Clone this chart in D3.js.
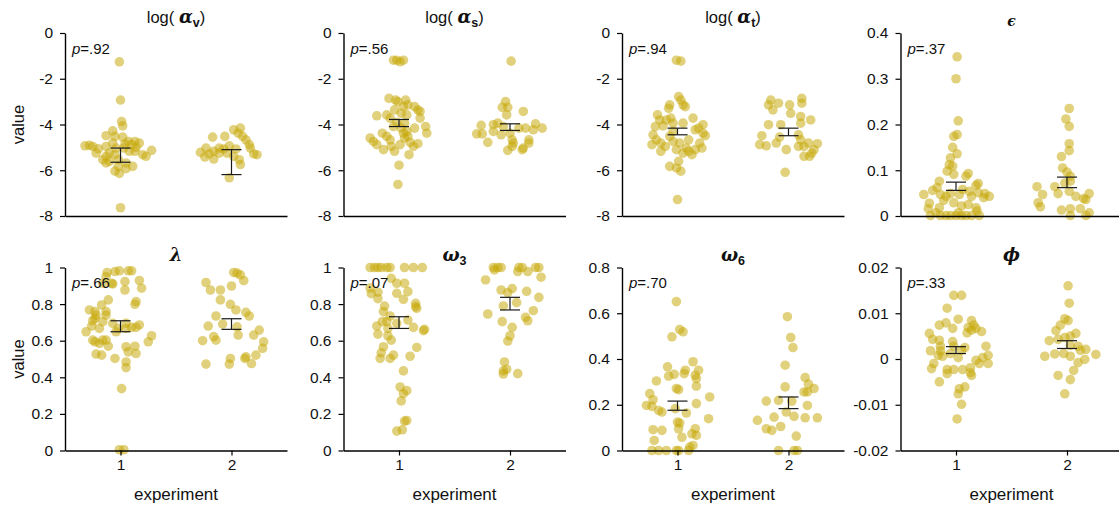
<!DOCTYPE html>
<html><head><meta charset="utf-8">
<script src="https://cdn.jsdelivr.net/npm/d3@7"></script>
<style>body{margin:0;background:#fff}svg{display:block}</style>
</head><body><svg id="c" width="1119" height="507"></svg>
<script>
// ---------------- DATA ----------------
const experiments = [1, 2];
const pLabels = [".92", ".56", ".94", ".37", ".66", ".07", ".70", ".33"];

const titleParts = [
  [["log( ", "n"], ["α", "g"], ["v", "s"], [")", "n"]],
  [["log( ", "n"], ["α", "g"], ["s", "s"], [")", "n"]],
  [["log( ", "n"], ["α", "g"], ["t", "s"], [")", "n"]],
  [["ϵ", "g"]],
  [["λ", "g"]],
  [["ω", "g"], ["3", "s"]],
  [["ω", "g"], ["6", "s"]],
  [["ϕ", "g"]]
];

const domains = [[-8, 0], [-8, 0], [-8, 0], [0, 0.4], [0, 1], [0, 1], [0, 0.8], [-0.02, 0.02]];
const tickSets = [
  [-8, -6, -4, -2, 0], [-8, -6, -4, -2, 0], [-8, -6, -4, -2, 0],
  [0, 0.1, 0.2, 0.3, 0.4],
  [0, 0.2, 0.4, 0.6, 0.8, 1], [0, 0.2, 0.4, 0.6, 0.8, 1],
  [0, 0.2, 0.4, 0.6, 0.8],
  [-0.02, -0.01, 0, 0.01, 0.02]
];

// error bars [low, high] per experiment
const errBars = [
  [[-5.65, -5.03], [-6.19, -5.10]],
  [[-4.09, -3.78], [-4.26, -3.97]],
  [[-4.45, -4.16], [-4.49, -4.16]],
  [[0.056, 0.074], [0.062, 0.085]],
  [[0.649, 0.709], [0.662, 0.720]],
  [[0.667, 0.731], [0.768, 0.837]],
  [[0.176, 0.216], [0.183, 0.234]],
  [[0.0012, 0.0027], [0.0023, 0.0040]]
];

// points: [value, jitter (in category steps)]
const alphaV1 = [[-1.26,-0.01],[-2.93,0],[-3.87,0.01],[-4.06,0.02],[-4.28,-0.07],[-4.49,-0.13],[-4.52,-0.05],[-4.55,0.02],[-4.91,-0.28],[-4.96,-0.25],[-5.06,-0.2],[-5.25,-0.22],[-4.81,-0.07],[-4.96,-0.13],[-5.25,-0.1],[-5.03,-0.04],[-4.74,0.07],[-4.88,0.1],[-4.74,0.13],[-4.81,0.17],[-5.17,0.08],[-5.17,0.13],[-5.32,0.2],[-5.39,0.23],[-5.13,0.28],[-5.32,-0.05],[-5.54,-0.02],[-5.61,-0.1],[-5.68,-0.13],[-5.68,0.05],[-5.83,0.11],[-5.83,-0.02],[-6.04,-0.05],[-6.14,-0.01],[-5.93,0.05],[-5.54,-0.16],[-5.39,-0.13],[-7.64,0],[-5.03,0.03],[-4.93,-0.32],[-5.0,0.14],[-4.85,0.04]];
const alphaV2 = [[-4.55,-0.17],[-4.52,-0.06],[-4.23,0.02],[-4.38,0.06],[-4.16,0.08],[-4.52,0.1],[-4.67,0.13],[-4.88,0.16],[-5.03,0.17],[-5.22,-0.28],[-5.03,-0.23],[-5.17,-0.16],[-5.03,-0.11],[-5.42,-0.24],[-5.51,-0.16],[-5.25,-0.11],[-5.07,-0.07],[-5.25,-0.04],[-5.39,0.02],[-5.54,0.07],[-5.75,0.08],[-5.28,0.2],[-5.32,0.23],[-6.33,-0.02],[-4.93,-0.02],[-5.07,0.04],[-5.28,-0.2]];

const alphaS1 = [[-1.19,-0.05],[-1.19,-0.02],[-1.26,0.01],[-1.19,0.04],[-2.86,-0.09],[-2.93,-0.03],[-3.0,-0.01],[-2.93,0.06],[-3.22,0.04],[-3.14,0.08],[-3.22,0.14],[-3.36,0.17],[-3.43,0.19],[-3.62,-0.2],[-3.58,-0.11],[-3.36,-0.04],[-3.51,0.02],[-3.58,0.07],[-3.72,0.19],[-3.72,-0.08],[-3.91,-0.02],[-4.09,-0.05],[-3.94,0.05],[-4.16,0.14],[-4.09,0.24],[-4.38,0.25],[-4.38,-0.15],[-4.59,-0.26],[-4.74,-0.23],[-4.88,-0.2],[-4.52,-0.11],[-4.67,-0.08],[-4.96,-0.07],[-5.10,-0.14],[-5.17,-0.04],[-4.88,0.01],[-4.59,0.05],[-4.52,0.08],[-4.78,0.1],[-4.96,0.13],[-4.84,0.17],[-4.38,0.04],[-4.16,0.02],[-5.32,0.09],[-5.78,0],[-6.62,-0.01],[-4.30,0.07]];
const alphaS2 = [[-1.23,0.01],[-3.0,-0.04],[-3.25,-0.07],[-3.25,-0.02],[-3.58,-0.03],[-3.43,0.12],[-3.94,-0.11],[-4.01,-0.15],[-4.09,-0.06],[-4.04,-0.26],[-4.30,-0.15],[-4.41,-0.3],[-4.41,-0.25],[-4.78,-0.2],[-4.45,-0.08],[-4.38,0],[-4.67,0.02],[-4.81,0.03],[-4.67,0.17],[-4.16,0.14],[-4.23,0.21],[-3.97,0.23],[-4.16,0.29],[-4.81,0.17],[-5.03,0.12],[-5.10,0.11],[-4.96,0.02],[-5.13,-0.02],[-4.16,0.08]];

const alphaT1 = [[-1.19,-0.01],[-1.23,0.03],[-2.78,0.01],[-2.93,0.03],[-3.14,0.05],[-3.22,0.07],[-3.14,-0.07],[-3.29,-0.08],[-3.58,-0.18],[-3.80,-0.16],[-3.80,-0.1],[-3.72,-0.06],[-3.94,-0.04],[-3.72,0.14],[-3.94,0.05],[-4.09,-0.2],[-4.06,-0.13],[-4.45,-0.22],[-4.67,-0.19],[-4.88,-0.23],[-4.81,-0.15],[-4.96,-0.11],[-5.17,-0.15],[-4.52,-0.07],[-4.74,-0.04],[-4.81,0.02],[-4.67,0.1],[-4.23,0.16],[-4.16,0.19],[-4.01,0.23],[-4.38,0.23],[-4.49,0.25],[-4.81,0.2],[-5.03,0.22],[-5.10,0.16],[-5.03,0.08],[-5.10,-0.01],[-5.25,0.05],[-5.17,0.1],[-5.32,0.13],[-5.83,-0.07],[-5.61,0.01],[-5.90,-0.01],[-6.04,0.03],[-7.28,0],[-4.30,-0.04]];
const alphaT2 = [[-2.93,-0.16],[-3.14,-0.18],[-3.07,-0.09],[-3.36,-0.14],[-3.14,0.01],[-3.51,0.02],[-2.86,0.12],[-3.07,0.12],[-3.65,0.11],[-3.80,0.2],[-3.94,0.11],[-4.01,-0.18],[-4.01,-0.07],[-4.49,-0.24],[-4.88,-0.26],[-4.93,-0.2],[-4.81,-0.11],[-4.55,-0.08],[-5.10,-0.02],[-6.09,-0.03],[-4.45,0.09],[-4.67,0.11],[-4.96,0.09],[-4.96,0.14],[-5.39,0.14],[-5.39,0.19],[-5.25,0.21],[-5.10,0.23],[-4.84,0.26],[-4.81,0.18]];

const epsilon1 = [[0.348,0.01],[0.300,0],[0.208,0.02],[0.174,-0.02],[0.178,0.01],[0.150,-0.03],[0.136,0.01],[0.127,-0.05],[0.112,-0.06],[0.109,-0.03],[0.091,-0.02],[0.098,-0.08],[0.076,-0.15],[0.093,0.11],[0.087,0.09],[0.071,0.2],[0.067,0.18],[0.047,-0.29],[0.056,-0.21],[0.062,-0.17],[0.047,-0.14],[0.043,-0.09],[0.049,-0.05],[0.047,0.03],[0.058,0.06],[0.054,0.12],[0.043,0.14],[0.051,0.2],[0.049,0.26],[0.043,0.3],[0.040,0.25],[0.028,-0.24],[0.016,-0.25],[0.018,-0.15],[0.034,-0.11],[0.029,-0.02],[0.022,0.05],[0.025,0.11],[0.018,0.18],[0.011,0.19],[0.001,-0.23],[0.001,-0.14],[0.001,-0.09],[0.001,-0.05],[0.001,0],[0.001,0.05],[0.001,0.09],[0.001,0.14],[0.001,0.21],[0.007,0.02],[0.007,-0.18]];
const epsilon2 = [[0.235,0.02],[0.212,-0.01],[0.196,0.02],[0.158,0.02],[0.143,0.02],[0.130,-0.05],[0.105,-0.04],[0.096,0],[0.087,0.03],[0.064,-0.27],[0.047,-0.22],[0.064,-0.11],[0.049,-0.08],[0.072,-0.02],[0.076,0.03],[0.054,0.02],[0.043,0.08],[0.038,0.15],[0.049,0.2],[0.029,-0.26],[0.020,-0.24],[0.013,-0.05],[0.016,0.03],[0.016,0.12],[0.036,0.17],[0.007,0.2],[0.001,0.03],[0.001,0.17]];

const lambda1 = [[0.978,-0.05],[0.982,-0.01],[0.982,0.07],[0.982,0.1],[0.973,-0.12],[0.951,-0.13],[0.914,-0.16],[0.914,-0.08],[0.910,-0.07],[0.923,0.04],[0.929,0.17],[0.887,0.19],[0.877,0.04],[0.814,0.14],[0.799,0.13],[0.823,-0.11],[0.795,-0.17],[0.759,-0.23],[0.740,-0.22],[0.768,-0.28],[0.759,-0.13],[0.740,-0.13],[0.722,-0.23],[0.709,-0.25],[0.704,-0.16],[0.667,-0.19],[0.680,-0.26],[0.649,-0.31],[0.695,-0.07],[0.667,-0.02],[0.695,0.05],[0.667,0.05],[0.673,0.1],[0.686,0.17],[0.673,0.14],[0.627,0.28],[0.594,0.25],[0.603,-0.25],[0.594,-0.23],[0.585,-0.19],[0.603,-0.16],[0.570,-0.11],[0.603,-0.13],[0.649,-0.04],[0.567,0.05],[0.570,0.13],[0.530,0.14],[0.539,0.07],[0.527,-0.22],[0.521,-0.17],[0.503,-0.05],[0.484,0.05],[0.453,0.05],[0.338,0.01],[0.004,-0.01],[0.004,0.03]];
const lambda2 = [[0.973,0.02],[0.969,0.05],[0.960,0.08],[0.929,0.11],[0.918,-0.23],[0.877,-0.19],[0.877,-0.1],[0.899,0],[0.823,-0.1],[0.799,-0.01],[0.768,0.04],[0.755,0.13],[0.735,0.16],[0.735,-0.14],[0.680,-0.21],[0.691,-0.08],[0.676,0.05],[0.631,0.06],[0.622,-0.16],[0.600,-0.26],[0.603,-0.14],[0.658,0.25],[0.631,0.2],[0.594,0.29],[0.558,0.28],[0.521,0.22],[0.512,0.13],[0.503,0.12],[0.475,0.18],[0.503,-0.01],[0.472,-0.02],[0.472,-0.23]];

const omega3_1 = [[1,-0.26],[1,-0.22],[1,-0.19],[1,-0.16],[1,-0.11],[1,-0.08],[1,0.05],[1,0.13],[1,0.21],[0.941,-0.07],[0.888,-0.26],[0.865,-0.19],[0.857,-0.25],[0.830,-0.19],[0.914,-0.02],[0.914,0.05],[0.859,-0.02],[0.868,0.08],[0.826,0.04],[0.804,0.15],[0.786,0.15],[0.777,0.16],[0.789,-0.13],[0.759,-0.14],[0.735,-0.08],[0.704,-0.11],[0.704,-0.15],[0.680,-0.2],[0.636,-0.19],[0.695,-0.02],[0.713,0.08],[0.673,0.13],[0.655,0.22],[0.662,0.23],[0.667,-0.1],[0.627,-0.1],[0.603,-0.07],[0.567,-0.14],[0.534,-0.16],[0.503,-0.17],[0.503,-0.08],[0.521,-0.05],[0.515,0.1],[0.563,0.16],[0.435,0.04],[0.347,0.01],[0.327,0.07],[0.311,0.04],[0.271,0.02],[0.161,0.05],[0.164,0.07],[0.106,-0.02],[0.113,0.03]];
const omega3_2 = [[1,-0.15],[1,-0.11],[1,-0.08],[1,0.08],[1,0.11],[1,0.23],[1,0.26],[0.987,-0.14],[0.978,0.07],[0.978,0.16],[0.947,0.28],[0.932,-0.22],[0.877,-0.08],[0.885,0.02],[0.863,-0.02],[0.870,0.15],[0.837,0.26],[0.808,0.06],[0.790,-0.06],[0.746,-0.2],[0.764,0.21],[0.728,0.14],[0.709,0.16],[0.704,-0.07],[0.673,0.02],[0.627,0],[0.598,-0.02],[0.484,-0.05],[0.435,-0.06],[0.444,-0.03],[0.420,0.07],[0.418,-0.06]];

const omega6_1 = [[0.651,-0.01],[0.497,-0.05],[0.529,0.02],[0.519,0.05],[0.388,0.14],[0.366,-0.09],[0.351,0.07],[0.351,0.19],[0.336,0.06],[0.333,-0.03],[0.325,-0.08],[0.329,0.16],[0.314,0.17],[0.304,-0.19],[0.281,0.17],[0.271,-0.01],[0.266,0.01],[0.249,-0.25],[0.222,-0.22],[0.234,0.29],[0.197,-0.28],[0.193,-0.23],[0.175,-0.17],[0.168,-0.14],[0.183,-0.02],[0.164,0.08],[0.205,0.17],[0.139,0.28],[0.124,0],[0.120,0.02],[0.091,-0.22],[0.088,-0.14],[0.095,0.01],[0.095,0.16],[0.058,0.04],[0.066,0.17],[0.073,0.13],[0.044,-0.21],[0.022,0.14],[0.015,0.11],[0,-0.23],[0,-0.17],[0,-0.1],[0,-0.01],[0,0.01],[0,0.1]];
const omega6_2 = [[0.585,-0.01],[0.494,0.02],[0.450,0.04],[0.373,-0.03],[0.319,0.15],[0.290,0.18],[0.278,-0.03],[0.271,0.23],[0.256,0.14],[0.256,0.17],[0.216,-0.2],[0.219,-0.09],[0.216,0.03],[0.197,0.17],[0.146,-0.13],[0.168,-0.02],[0.149,0.05],[0.143,0.15],[0.143,0.26],[0.132,-0.28],[0.095,-0.2],[0.088,-0.15],[0.105,-0.07],[0.063,0.07],[0,-0.09],[0,0.05],[0,0.08]];

const phi1 = [[0.0139,-0.02],[0.0139,0.05],[0.0111,-0.08],[0.0087,0.02],[0.0079,-0.09],[0.0074,-0.15],[0.0067,-0.03],[0.0084,0.14],[0.0074,0.16],[0.0069,0.11],[0.0063,0.14],[0.0057,0.1],[0.0067,0.18],[0.0060,0.23],[0.0056,-0.24],[0.0043,-0.21],[0.0041,-0.15],[0.0028,-0.14],[0.0018,-0.23],[0.0018,-0.14],[0.0038,-0.03],[0.0028,-0.02],[0.0019,0.05],[0.0025,0.08],[0.0012,-0.05],[0.0003,0.02],[0.0008,-0.16],[0.0028,0.27],[0.0008,0.29],[0.0003,0.24],[-0.0003,0.18],[-0.0010,0.21],[-0.0010,0.29],[-0.0010,-0.2],[-0.0021,-0.22],[-0.0023,-0.08],[-0.0023,-0.02],[-0.0032,-0.08],[-0.0023,0.06],[-0.0019,0.13],[-0.0036,0.14],[-0.0030,0.13],[-0.0050,-0.15],[-0.0065,0.03],[-0.0061,0.08],[-0.0076,0.02],[-0.0099,0.05],[-0.0131,0.01],[0.0006,-0.12]];
const phi2 = [[0.0160,0.01],[0.0122,0.02],[0.0088,-0.02],[0.0084,0.01],[0.0074,-0.06],[0.0062,-0.1],[0.0047,-0.02],[0.0056,0.08],[0.0050,0.03],[0.0040,-0.16],[0.0043,-0.08],[0.0030,0.03],[0.0028,0.1],[0.0021,0.17],[0.0006,-0.2],[0.0011,-0.11],[0.0012,-0.03],[0.0006,0.03],[-0.0001,0.16],[0.0010,0.26],[-0.0008,0.1],[-0.0036,-0.08],[-0.0025,0.06],[-0.0045,0.03],[-0.0076,-0.02],[0.0019,0.12]];

const seriesByPanel = [
  [alphaV1, alphaV2], [alphaS1, alphaS2], [alphaT1, alphaT2], [epsilon1, epsilon2],
  [lambda1, lambda2], [omega3_1, omega3_2], [omega6_1, omega6_2], [phi1, phi2]
];

// ---------------- DRAW ----------------
const FONT = "'Liberation Sans', Arial, Helvetica, sans-serif";
const GREEK = "'DejaVu Serif', 'Liberation Serif', serif";
const svg = d3.select("#c");
const W = 222, H = 183;
const colX = [65, 343.5, 622, 900.5];
const rowY = [33, 267.5];
const titleBase = [23, 261];
const x = d3.scalePoint().domain(experiments).range([0, W]).padding(0.5);
const fmt = d => String(+(+d).toFixed(4));

seriesByPanel.forEach((series, i) => {
  const r = Math.floor(i / 4), c = i % 4;
  const g = svg.append("g").attr("transform", `translate(${colX[c]},${rowY[r]})`);
  const y = d3.scaleLinear().domain(domains[i]).range([H, 0]);

  // dots
  series.forEach((pts, k) => {
    g.append("g").selectAll("circle").data(pts).join("circle")
      .attr("cx", d => x(experiments[k]) + d[1] * x.step())
      .attr("cy", d => y(d[0]))
      .attr("r", 4.8)
      .attr("fill", "#c6a704")
      .attr("fill-opacity", 0.52);
  });

  // error bars
  errBars[i].forEach((e, k) => {
    const cx = x(experiments[k]);
    const eg = g.append("g").attr("stroke", "#1a1a1a").attr("stroke-width", 1.2);
    eg.append("line").attr("x1", cx).attr("x2", cx).attr("y1", y(e[0])).attr("y2", y(e[1]));
    e.forEach(v => eg.append("line").attr("x1", cx - 10).attr("x2", cx + 10).attr("y1", y(v)).attr("y2", y(v)));
  });

  // y axis
  const ya = g.append("g").call(
    d3.axisLeft(y).tickValues(tickSets[i]).tickSize(5).tickSizeOuter(0).tickPadding(7).tickFormat(fmt));
  // x axis
  const xa = g.append("g").attr("transform", `translate(0,${H})`).call(
    d3.axisBottom(x).tickSize(r === 1 ? 5 : 0).tickSizeOuter(0).tickPadding(3));
  if (r === 0) xa.selectAll(".tick").remove();
  [ya, xa].forEach(a => {
    a.select(".domain").attr("stroke", "#000").attr("stroke-width", 1.4);
    a.selectAll(".tick line").attr("stroke", "#000").attr("stroke-width", 1.2);
    a.selectAll(".tick text").attr("fill", "#111").style("font-family", FONT).style("font-size", "15.5px");
  });

  // p label
  const pt = g.append("text").attr("x", 7).attr("y", 20.5)
    .style("font-family", FONT).style("font-size", "15px").attr("fill", "#111");
  pt.append("tspan").style("font-style", "italic").text("p");
  pt.append("tspan").text("=" + pLabels[i]);

  // title
  const t = svg.append("text").attr("x", colX[c] + W / 2).attr("y", titleBase[r] + (i === 3 ? 3 : 0))
    .attr("text-anchor", "middle").style("font-family", FONT).style("font-size", "16.5px").attr("fill", "#111")
    .attr("xml:space", "preserve").style("white-space", "pre");
  titleParts[i].forEach(([txt, s], j) => {
    const ts = t.append("tspan").text(txt);
    if (s === "g") ts.style("font-family", GREEK).style("font-weight", "bold").style("font-style", "italic").style("font-size", i === 3 ? "14px" : "18px");
    if (s === "s") ts.attr("dy", 4).style("font-weight", "bold").style("font-size", "12.5px");
    if (s === "n" && j > 0 && titleParts[i][j - 1][1] === "s") ts.attr("dy", -4);
  });

  // axis titles
  if (c === 0) {
    svg.append("text").attr("transform", `translate(24,${rowY[r] + H / 2}) rotate(-90)`)
      .attr("text-anchor", "middle").style("font-family", FONT).style("font-size", "16.5px").attr("fill", "#111").text("value");
  }
  if (r === 1) {
    svg.append("text").attr("x", colX[c] + W / 2).attr("y", 500)
      .attr("text-anchor", "middle").style("font-family", FONT).style("font-size", "17px").attr("fill", "#111").text("experiment");
  }
});
</script>
</body></html>
